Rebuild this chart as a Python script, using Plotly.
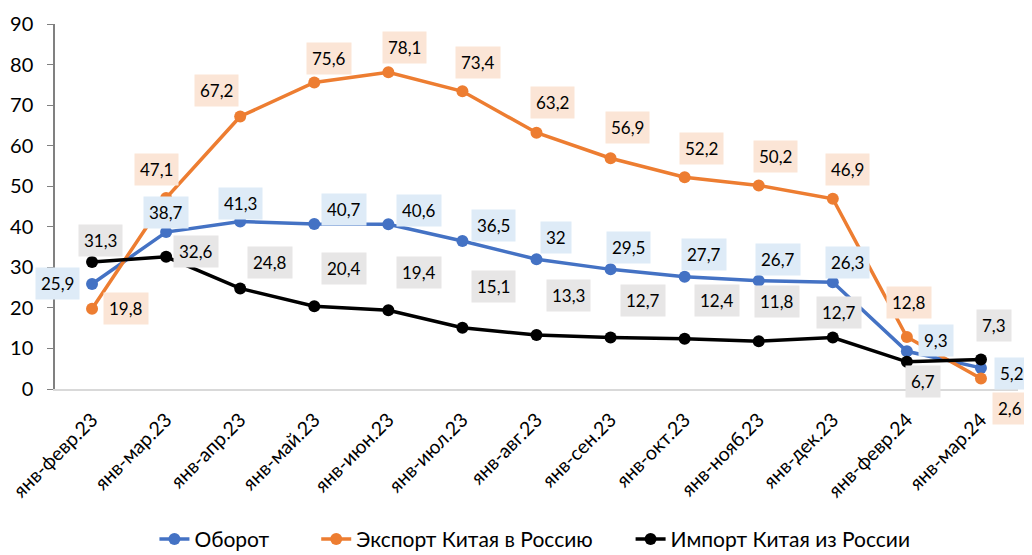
import plotly.graph_objects as go

categories = ["янв-февр.23", "янв-мар.23", "янв-апр.23", "янв-май.23", "янв-июн.23",
              "янв-июл.23", "янв-авг.23", "янв-сен.23", "янв-окт.23", "янв-нояб.23",
              "янв-дек.23", "янв-февр.24", "янв-мар.24"]
turnover = [25.9, 38.7, 41.3, 40.7, 40.6, 36.5, 32, 29.5, 27.7, 26.7, 26.3, 9.3, 5.2]
export_cn = [19.8, 47.1, 67.2, 75.6, 78.1, 73.4, 63.2, 56.9, 52.2, 50.2, 46.9, 12.8, 2.6]
import_cn = [31.3, 32.6, 24.8, 20.4, 19.4, 15.1, 13.3, 12.7, 12.4, 11.8, 12.7, 6.7, 7.3]

names = ["Оборот", "Экспорт Китая в Россию", "Импорт Китая из России"]
colors = ["#4472C4", "#ED7D31", "#000000"]
label_bg = ["#DEEBF7", "#FBE5D6", "#E7E6E6"]

# label offsets in pixels (dx, dy; dy positive = up)
off_turn = [(-35, 0), (0, 20), (0, 18), (30, 14), (31, 14), (31, 15), (19, 22), (18, 22),
            (19, 22), (19, 21), (15, 20), (29, 11), (31, -6)]
off_exp = [(34, 0), (-10, 28), (-24, 26), (15, 24), (16, 25), (16, 29), (16, 30), (17, 31),
           (17, 29), (17, 29), (15, 29), (2, 35), (29, -30)]
off_imp = [(8, 22), (30, 5), (30, 26), (30, 38), (31, 38), (31, 41), (32, 40), (32, 37),
           (32, 38), (18, 40), (6, 25), (16, -20), (13, 34)]

FONT = "Lato, Calibri, Carlito, sans-serif"

fig = go.Figure()
series = [turnover, export_cn, import_cn]
offsets = [off_turn, off_exp, off_imp]
legend_ids = ["legend", "legend2", "legend3"]
legend_x = [0.143, 0.301, 0.608]
for s, name, col, lg in zip(series, names, colors, legend_ids):
    fig.add_trace(go.Scatter(x=categories, y=s, name=name, mode="lines+markers",
                             line=dict(color=col, width=3.5),
                             marker=dict(color=col, size=12), cliponaxis=False,
                             legend=lg))

for s, off, bg in zip(series, offsets, label_bg):
    for c, v, (dx, dy) in zip(categories, s, off):
        txt = ("%g" % v).replace(".", ",")
        fig.add_annotation(x=c, y=v, text=txt, showarrow=False, xshift=dx, yshift=dy,
                           bgcolor=bg, borderpad=5,
                           font=dict(family=FONT, size=17, color="#000000"))

legend_common = dict(orientation="h", xanchor="left", xref="container",
                     y=0.066, yanchor="top", yref="container", bgcolor="rgba(0,0,0,0)",
                     font=dict(family=FONT, size=21, color="#000000"))
fig.update_layout(
    width=1024, height=547,
    margin=dict(l=47, r=14, t=16, b=166, autoexpand=False),
    plot_bgcolor="white", paper_bgcolor="white",
    font=dict(family=FONT, color="#000000"),
    showlegend=True,
    legend=dict(x=legend_x[0], **legend_common),
    legend2=dict(x=legend_x[1], **legend_common),
    legend3=dict(x=legend_x[2], **legend_common),
)
fig.update_xaxes(showgrid=False, showline=True, linecolor="#D9D9D9", linewidth=1.5,
                 ticks="", tickangle=-45, tickfont=dict(family=FONT, size=19.5, color="#000000"),
                 ticklabelstandoff=10,
                 range=[-0.5, 12.5], zeroline=False, automargin=False)
fig.update_yaxes(range=[0, 90], dtick=10, showgrid=False, showline=True, linecolor="#808080",
                 linewidth=1.5, ticks="outside", ticklen=6, tickcolor="#808080",
                 ticklabelstandoff=10, tickfont=dict(family=FONT, size=20, color="#000000"),
                 zeroline=False, automargin=False)

fig.write_html("out.html")
